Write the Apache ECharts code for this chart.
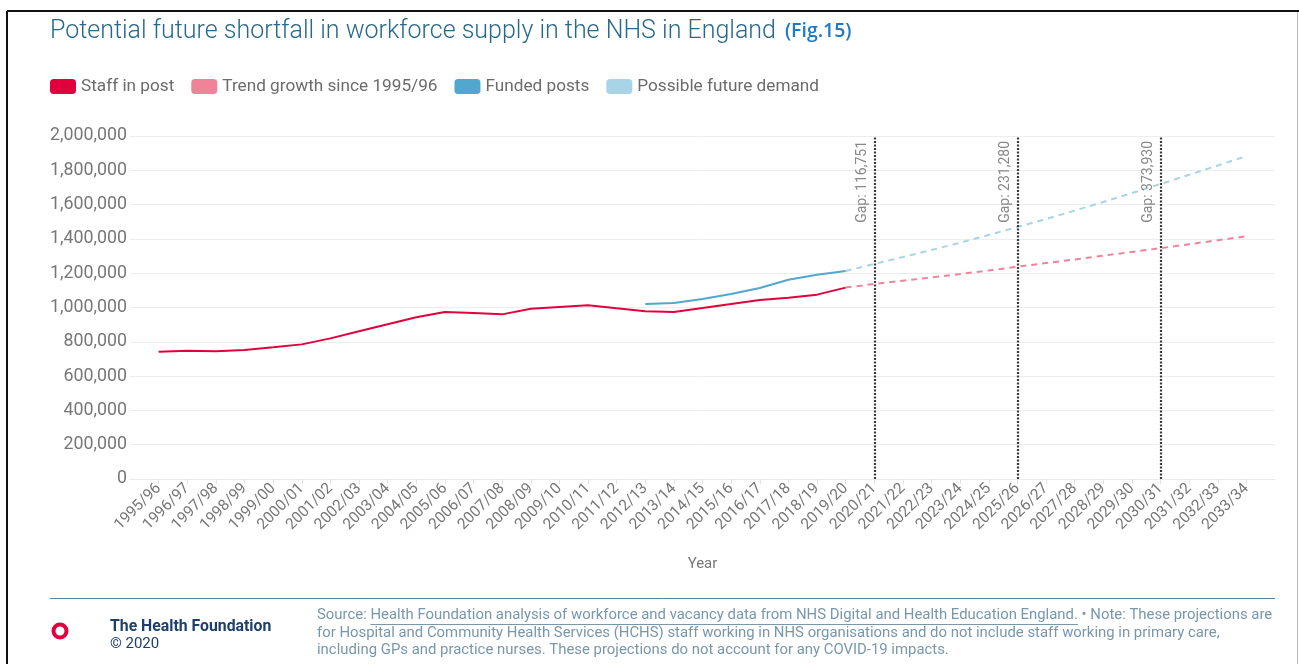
<!DOCTYPE html>
<html><head><meta charset="utf-8">
<script src="https://cdn.jsdelivr.net/npm/echarts@6/dist/echarts.min.js"></script>
<style>html,body{margin:0;padding:0;background:#fff}#c{width:1299px;height:664px}</style>
</head><body><div id="c"></div>
<script>
// ---- data ----
const years = ['1995/96','1996/97','1997/98','1998/99','1999/00','2000/01','2001/02','2002/03','2003/04','2004/05',
  '2005/06','2006/07','2007/08','2008/09','2009/10','2010/11','2011/12','2012/13','2013/14','2014/15',
  '2015/16','2016/17','2017/18','2018/19','2019/20','2020/21','2021/22','2022/23','2023/24','2024/25',
  '2025/26','2026/27','2027/28','2028/29','2029/30','2030/31','2031/32','2032/33','2033/34'];
const staffStart = '1995/96';
const staffInPost = [742000, 748000, 745000, 752000, 768000, 785000, 820000, 861000, 902000, 943000,
  974000, 968000, 960000, 993000, 1003000, 1013000, 995000, 978000, 974000, 997000,
  1021000, 1044000, 1057000, 1075000, 1116000];
const fundedStart = '2012/13';
const fundedPosts = [1020000, 1026000, 1050000, 1079000, 1114000, 1162000, 1191000, 1213000];
const trendStart = '2019/20';
const trendGrowth = [1116000, 1137000, 1156000, 1175000, 1195000, 1216000, 1238000, 1259000, 1280000,
  1302000, 1324000, 1346000, 1369000, 1392000, 1415000];
const demandStart = '2019/20';
const futureDemand = [1213000, 1254000, 1294000, 1335000, 1378000, 1423000, 1469000, 1516000, 1565000,
  1615000, 1667000, 1720000, 1774000, 1828000, 1883000];
const gapYears = ['2020/21', '2025/26', '2030/31'];
const gapLabels = ['Gap: 116,751', 'Gap: 231,280', 'Gap: 373,930'];
const seriesNames = ['Staff in post', 'Trend growth since 1995/96', 'Funded posts', 'Possible future demand'];
const titleText = 'Potential future shortfall in workforce supply in the NHS in England';
const figText = '(Fig.15)';
const xAxisName = 'Year';
const orgName = 'The Health Foundation';
const copyright = '© 2020';
const srcPrefix = 'Source: ';
const srcLink = 'Health Foundation analysis of workforce and vacancy data from NHS Digital and Health Education England.';
const srcRest1 = ' \u2022 Note: These projections are';
const srcLine2 = 'for Hospital and Community Health Services (HCHS) staff working in NHS organisations and do not include staff working in primary care,';
const srcLine3 = 'including GPs and practice nurses. These projections do not account for any COVID-19 impacts.';

// ---- helpers ----
function pairs(start, arr) { const s = years.indexOf(start); return arr.map((v, i) => [s + i, v]); }
const idx = years.map((_, i) => i);
const FONT = 'Roboto, "Liberation Sans", sans-serif';
const srcFont = '14.9px Roboto';
const mctx = document.createElement('canvas').getContext('2d');
mctx.font = srcFont;
const wPrefix = mctx.measureText(srcPrefix).width;
const wLink = mctx.measureText(srcLink).width;

const colors = ['#e2003c', '#ef8499', '#52a7cf', '#a9d3e7'];

const chart = echarts.init(document.getElementById('c'), null, {renderer: 'canvas'});
const srcColor = '#7897ad';
chart.setOption({
  animation: false,
  textStyle: {fontFamily: FONT},
  title: {
    left: 45, top: 14,
    text: '{a|' + titleText + '}  {b|' + figText + '}',
    textStyle: {
      rich: {
        a: {fontFamily: FONT, fontWeight: 300, fontSize: 25, color: '#27698c'},
        b: {fontFamily: '"Open Sans", sans-serif', fontWeight: 600, fontSize: 19.5, color: '#1f7ac4'}
      }
    }
  },
  legend: {
    left: 45, top: 73, itemWidth: 26, itemHeight: 15, itemGap: 17, icon: 'roundRect',
    textStyle: {fontSize: 17.2, color: '#6b6b6b', fontFamily: FONT},
    data: seriesNames, selectedMode: false
  },
  grid: {left: 130, right: 24, top: 136, bottom: 185, containLabel: false},
  xAxis: {
    type: 'value', min: -1, max: years.length, interval: 1,
    splitLine: {show: false},
    axisLine: {show: true, lineStyle: {color: '#ebebeb'}},
    axisTick: {show: true, customValues: idx, length: 5, lineStyle: {color: '#e2e2e2'}},
    axisLabel: {customValues: idx, rotate: 45, formatter: v => years[v] || '', color: '#777', fontSize: 15.5, margin: 7},
    name: xAxisName, nameLocation: 'middle', nameGap: 78,
    nameTextStyle: {color: '#777', fontSize: 15}
  },
  yAxis: {
    type: 'value', min: 0, max: 2000000, interval: 200000,
    axisLine: {show: false}, axisTick: {show: false},
    splitLine: {lineStyle: {color: '#ededed'}},
    axisLabel: {formatter: v => v.toLocaleString('en-US'), color: '#777', fontSize: 17.8, margin: 3}
  },
  series: [
    {name: seriesNames[0], type: 'line', data: pairs(staffStart, staffInPost), showSymbol: false, symbol: 'none',
      lineStyle: {color: colors[0], width: 2}, itemStyle: {color: colors[0]}, z: 5, silent: true},
    {name: seriesNames[1], type: 'line', data: pairs(trendStart, trendGrowth), showSymbol: false, symbol: 'none',
      lineStyle: {color: colors[1], width: 2, type: [6, 5]}, itemStyle: {color: colors[1]}, z: 4, silent: true,
      markLine: {
        symbol: ['none', 'none'], silent: true, animation: false,
        lineStyle: {type: [2, 1.5], color: '#3a3a3a', width: 2.2},
        label: {position: 'insideEndTop', color: '#888', fontSize: 14, fontFamily: FONT, distance: 5},
        emphasis: {disabled: true},
        data: gapYears.map((y, i) => ({xAxis: years.indexOf(y), label: {formatter: gapLabels[i]}}))
      }},
    {name: seriesNames[2], type: 'line', data: pairs(fundedStart, fundedPosts), showSymbol: false, symbol: 'none',
      lineStyle: {color: colors[2], width: 2}, itemStyle: {color: colors[2]}, z: 5, silent: true},
    {name: seriesNames[3], type: 'line', data: pairs(demandStart, futureDemand), showSymbol: false, symbol: 'none',
      lineStyle: {color: colors[3], width: 2, type: [6, 5]}, itemStyle: {color: colors[3]}, z: 4, silent: true}
  ],
  graphic: [
    // frame
    {type: 'line', shape: {x1: 7, y1: 11, x2: 1299, y2: 11}, style: {stroke: '#111', lineWidth: 2}, silent: true},
    {type: 'line', shape: {x1: 7, y1: 11, x2: 7, y2: 664}, style: {stroke: '#111', lineWidth: 2}, silent: true},
    {type: 'line', shape: {x1: 1297.5, y1: 12, x2: 1297.5, y2: 664}, style: {stroke: '#bbb', lineWidth: 1}, silent: true},
    // footer rule
    {type: 'line', shape: {x1: 50, y1: 598.5, x2: 1275, y2: 598.5}, style: {stroke: '#53809a', lineWidth: 1}, silent: true},
    // logo
    {type: 'ring', shape: {cx: 60, cy: 631, r: 8.5, r0: 4.5}, style: {fill: '#e2003c'}, silent: true},
    {type: 'text', x: 110, y: 619, style: {text: orgName, font: 'bold 15.8px Roboto', fill: '#1d3f6c'}, silent: true},
    {type: 'text', x: 110, y: 637, style: {text: copyright, font: '15px Roboto', fill: '#1d3f6c'}, silent: true},
    // source text
    {type: 'text', x: 317, y: 608, style: {text: srcPrefix + srcLink + srcRest1, font: srcFont, fill: srcColor}, silent: true},
    {type: 'line', shape: {x1: 317 + wPrefix, y1: 624.5, x2: 317 + wPrefix + wLink, y2: 624.5}, style: {stroke: srcColor, lineWidth: 1}, silent: true},
    {type: 'text', x: 317, y: 625.5, style: {text: srcLine2, font: srcFont, fill: srcColor}, silent: true},
    {type: 'text', x: 317, y: 643, style: {text: srcLine3, font: srcFont, fill: srcColor}, silent: true}
  ]
});
</script>
</body></html>
